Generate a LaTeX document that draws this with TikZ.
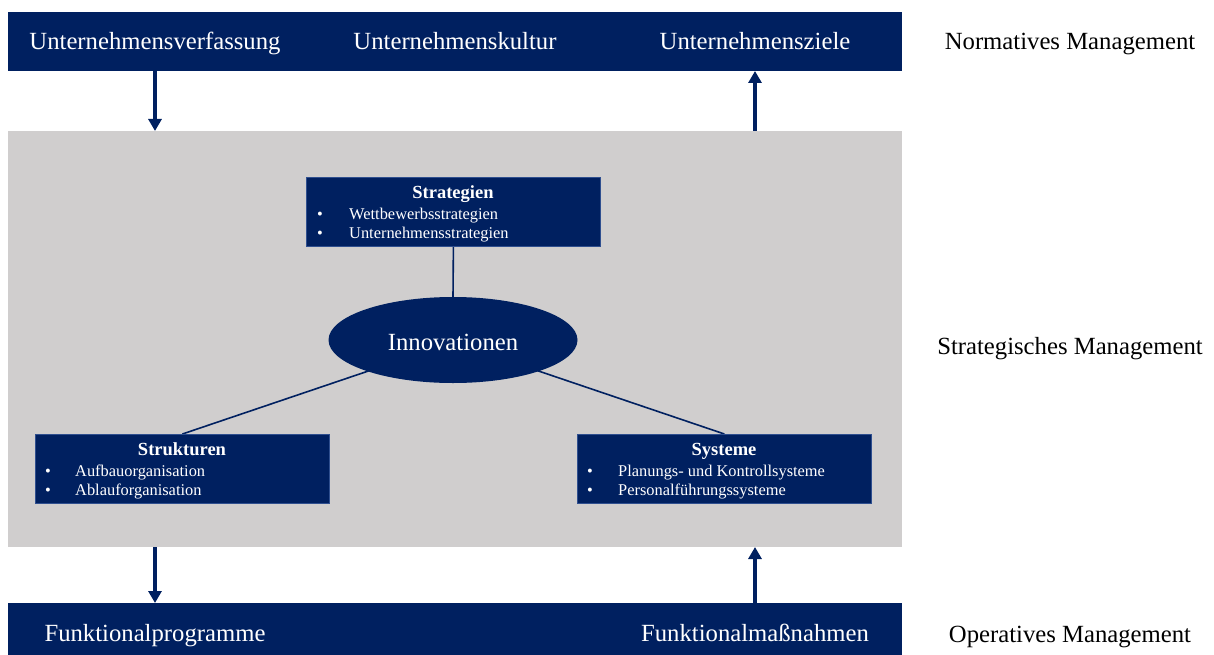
\documentclass[tikz,border=0pt]{standalone}
\usepackage{fontspec}
\setmainfont{Liberation Serif}
\usetikzlibrary{arrows.meta,shapes.geometric}
\definecolor{navy}{HTML}{002060}
\definecolor{panelgray}{HTML}{D0CECE}
\definecolor{boxedge}{HTML}{2F4F8F}
\pgfdeclarelayer{bottom}
\pgfdeclarelayer{behind}
\pgfsetlayers{bottom,behind,main}
\begin{document}
\begin{tikzpicture}[x=1pt,y=-1pt,
  bigfont/.style={font=\fontsize{24.7}{28}\selectfont},
  bar/.style={fill=navy, inner sep=0pt, anchor=north west},
  bartext/.style={text=white, inner sep=0pt, anchor=base, bigfont},
  panel/.style={fill=panelgray, inner sep=0pt, anchor=north west},
  infobox/.style={fill=navy, draw=boxedge, line width=0.8pt, inner sep=0pt, anchor=north west, minimum width=294pt, minimum height=69pt},
  boxtitle/.style={text=white, inner sep=0pt, anchor=base, font=\bfseries\fontsize{18.5}{20}\selectfont},
  item/.style={text=white, inner sep=0pt, anchor=base west, font=\fontsize{16.4}{18}\selectfont},
  dot/.style={text=white, inner sep=0pt, anchor=base, font=\fontsize{16.4}{18}\selectfont},
  sidelabel/.style={inner sep=0pt, anchor=base, bigfont},
  arr/.style={draw=navy, line width=3.5pt, -{Triangle[width=13pt,length=12pt]}},
  conn/.style={draw=navy, line width=1.6pt}]
\useasboundingbox (0,0) rectangle (1214,655);
% panel
\begin{pgfonlayer}{bottom}
\node[panel, minimum width=894pt, minimum height=416pt] (panel) at (8,131) {};
\end{pgfonlayer}
% top bar
\node[bar, minimum width=298pt, minimum height=59pt] (verf) at (8,12) {};
\node[bar, minimum width=298pt, minimum height=59pt] (kult) at (306,12) {};
\node[bar, minimum width=298pt, minimum height=59pt] (ziele) at (604,12) {};
\node[bartext] (verf-t) at (155,50) {Unternehmensverfassung};
\node[bartext] (kult-t) at (455,50) {Unternehmenskultur};
\node[bartext] (ziele-t) at (755,50) {Unternehmensziele};
% bottom bar
\node[bar, minimum width=894pt, minimum height=60pt] (opbar) at (8,603) {};
\node[bartext] (fprog) at (155,641) {Funktionalprogramme};
\node[bartext] (fmass) at (755,641) {Funktionalmaßnahmen};
% side labels
\node[sidelabel] (norm) at (1070,50) {Normatives Management};
\node[sidelabel] (strm) at (1070,354) {Strategisches Management};
\node[sidelabel] (opm) at (1070,642) {Operatives Management};
% arrows
\coordinate (a1) at (155,71);
\coordinate (a2) at (155,131);
\coordinate (b1) at (755,131);
\coordinate (b2) at (755,71);
\coordinate (c1) at (155,547);
\coordinate (c2) at (155,603);
\coordinate (d1) at (755,603);
\coordinate (d2) at (755,547);
\draw[arr] (a1) -- (a2);
\draw[arr] (b1) -- (b2);
\draw[arr] (c1) -- (c2);
\draw[arr] (d1) -- (d2);
% boxes
\node[infobox] (strat) at (306,177) {};
\node[boxtitle] (strat-t) at (453,198.5) {Strategien};
\node[dot] (strat-d1) at (320,219.5) {•};
\node[item] (strat-i1) at (349,219.5) {Wettbewerbsstrategien};
\node[dot] (strat-d2) at (320,238.5) {•};
\node[item] (strat-i2) at (349,238.5) {Unternehmensstrategien};

\node[infobox] (strukt) at (35,434) {};
\node[boxtitle] (strukt-t) at (182,455.5) {Strukturen};
\node[dot] (strukt-d1) at (48,476) {•};
\node[item] (strukt-i1) at (75,476) {Aufbauorganisation};
\node[dot] (strukt-d2) at (48,495) {•};
\node[item] (strukt-i2) at (75,495) {Ablauforganisation};

\node[infobox] (sys) at (577,434) {};
\node[boxtitle] (sys-t) at (724,455.5) {Systeme};
\node[dot] (sys-d1) at (590,476) {•};
\node[item] (sys-i1) at (618,476) {Planungs- und Kontrollsysteme};
\node[dot] (sys-d2) at (590,495) {•};
\node[item] (sys-i2) at (618,495) {Personalführungssysteme};
% ellipse
\node[ellipse, fill=navy, text=white, inner sep=0pt, minimum width=249pt, minimum height=86pt] (inno) at (453,340) {};
\node[bartext] (inno-t) at (453,350) {Innovationen};
% connectors
\coordinate (inno-l) at (400,360.3);
\coordinate (inno-r) at (506,360);
\begin{pgfonlayer}{behind}
\draw[conn] (strat.south) -- (inno.north);
\draw[conn] (inno-l) -- (strukt.north);
\draw[conn] (inno-r) -- (sys.north);
\end{pgfonlayer}
\end{tikzpicture}
\end{document}
